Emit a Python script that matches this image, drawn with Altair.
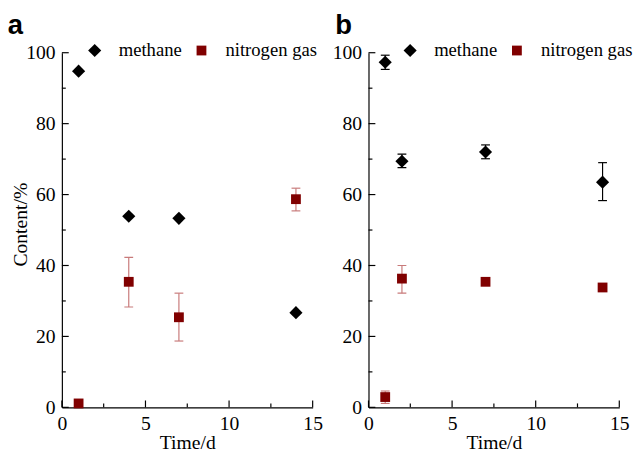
import altair as alt
import pandas as pd

SERIES = ["methane", "nitrogen gas"]

# Panel a
A_T_METHANE = [1, 4, 7, 14]
A_METHANE = [94.8, 53.9, 53.3, 26.7]
A_T_N2 = [1, 4, 7, 14]
A_N2 = [1.1, 35.4, 25.4, 58.7]
A_N2_LO = [None, 28.3, 18.7, 55.4]
A_N2_HI = [None, 42.3, 32.2, 61.8]
A_METHANE_LO = [None, None, None, None]
A_METHANE_HI = [None, None, None, None]

# Panel b
B_T_METHANE = [1, 2, 7, 14]
B_METHANE = [97.3, 69.4, 72.0, 63.5]
B_METHANE_LO = [95.3, 67.6, 70.1, 58.3]
B_METHANE_HI = [99.3, 71.4, 74.0, 69.0]
B_T_N2 = [1, 2, 7, 14]
B_N2 = [2.9, 36.3, 35.4, 33.8]
B_N2_LO = [1.1, 32.2, None, None]
B_N2_HI = [4.6, 40.0, None, None]

X_LABELS = [0, 5, 10, 15]
X_MINOR = [2.5, 7.5, 12.5]
Y_LABELS = [0, 20, 40, 60, 80, 100]
Y_MINOR = [10, 30, 50, 70, 90]

W = 256
H = 362
SERIF = "Liberation Serif"
N2_ERR = "#c87a7a"


def err_df(t, lo, hi):
    rows = [(a, b, c) for a, b, c in zip(t, lo, hi) if b is not None]
    return pd.DataFrame(rows, columns=["t", "lo", "hi"])


def panel(label, t_m, m, m_lo, m_hi, t_n, n, n_lo, n_hi, legend_x, ytitle, title_dx):
    xs = alt.Scale(domain=[0, 15], nice=False, zero=False)
    ys = alt.Scale(domain=[0, 100], nice=False, zero=False)
    x_axis = alt.Axis(values=X_LABELS, ticks=False, grid=False, format="d",
                      labelFont=SERIF, labelFontSize=20, labelColor="black",
                      labelPadding=7, labelFlush=False, labelOverlap=False,
                      domainColor="black", domainWidth=1.2,
                      title="Time/d", titleFont=SERIF, titleFontSize=20,
                      titleFontWeight="normal", titleColor="black",
                      titleBaseline="alphabetic", titleY=42)
    y_kwargs = dict(values=Y_LABELS, ticks=False, grid=False, format="d",
                    labelFont=SERIF, labelFontSize=20, labelColor="black",
                    labelPadding=7, labelFlush=False, labelOverlap=False,
                    domainColor="black", domainWidth=1.2)
    if ytitle:
        y_axis = alt.Axis(title=ytitle, titleFont=SERIF, titleFontSize=20,
                          titleFontWeight="normal", titleColor="black",
                          titleBaseline="alphabetic", titleX=-35.6, titleY=H / 2 - 6,
                          **y_kwargs)
    else:
        y_axis = alt.Axis(title=None, **y_kwargs)

    def X(f):
        return alt.X(f, type="quantitative", scale=xs, axis=x_axis)

    def Y(f):
        return alt.Y(f, type="quantitative", scale=ys, axis=y_axis)

    pts = pd.DataFrame({
        "t": t_m + t_n,
        "v": m + n,
        "series": [SERIES[0]] * len(m) + [SERIES[1]] * len(n),
    })
    leg = alt.Legend(title=None, orient="none", legendX=legend_x, legendY=-12,
                     direction="horizontal", labelFont=SERIF, labelFontSize=19,
                     labelColor="black", labelOffset=15, columnPadding=10,
                     symbolStrokeWidth=0, padding=0, symbolOpacity=1)
    points = alt.Chart(pts).mark_point(filled=True, opacity=1, strokeWidth=0).encode(
        x=X("t"), y=Y("v"),
        color=alt.Color("series:N", scale=alt.Scale(domain=SERIES, range=["#000000", "#800000"]), legend=leg),
        shape=alt.Shape("series:N", scale=alt.Scale(domain=SERIES, range=["diamond", "square"]), legend=leg),
        size=alt.Size("series:N", scale=alt.Scale(domain=SERIES, range=[180, 100]), legend=leg),
    )

    layers = []
    for (tt, lo, hi, col) in [(t_m, m_lo, m_hi, "#000000"), (t_n, n_lo, n_hi, N2_ERR)]:
        df = err_df(tt, lo, hi)
        if len(df) == 0:
            continue
        base = alt.Chart(df)
        layers.append(base.mark_rule(color=col, strokeWidth=1.2).encode(x=X("t"), y=Y("lo"), y2="hi"))
        layers.append(base.mark_tick(color=col, orient="horizontal", size=9, thickness=1.2, opacity=1).encode(x=X("t"), y=Y("lo")))
        layers.append(base.mark_tick(color=col, orient="horizontal", size=9, thickness=1.2, opacity=1).encode(x=X("t"), y=Y("hi")))

    # inward ticks
    ymaj = alt.Chart(pd.DataFrame({"v": Y_LABELS})).mark_rule(color="black", strokeWidth=1.2).encode(
        y=Y("v"), x=alt.value(0), x2=alt.value(7))
    ymin = alt.Chart(pd.DataFrame({"v": Y_MINOR})).mark_rule(color="black", strokeWidth=1.2).encode(
        y=Y("v"), x=alt.value(0), x2=alt.value(4))
    xmaj = alt.Chart(pd.DataFrame({"t": X_LABELS})).mark_rule(color="black", strokeWidth=1.2).encode(
        x=X("t"), y=alt.value(H), y2=alt.value(H - 7))
    xmin = alt.Chart(pd.DataFrame({"t": X_MINOR})).mark_rule(color="black", strokeWidth=1.2).encode(
        x=X("t"), y=alt.value(H), y2=alt.value(H - 4))

    return alt.layer(ymaj, ymin, xmaj, xmin, *layers, points).properties(
        width=W, height=H,
        title=alt.TitleParams(label, anchor="start", frame="bounds", font="Liberation Sans",
                              fontSize=28, fontWeight="bold", color="black", dx=title_dx, offset=1),
    )


pa = panel("a", A_T_METHANE, A_METHANE, A_METHANE_LO, A_METHANE_HI,
           A_T_N2, A_N2, A_N2_LO, A_N2_HI, legend_x=24, ytitle="Content/%", title_dx=-3.7)
pb = panel("b", B_T_METHANE, B_METHANE, B_METHANE_LO, B_METHANE_HI,
           B_T_N2, B_N2, B_N2_LO, B_N2_HI, legend_x=33, ytitle=None, title_dx=3)

chart = alt.hconcat(pa, pb, spacing=57, bounds="flush").resolve_scale(
    color="independent", shape="independent", size="independent"
).properties(padding={"left": -1, "top": 0, "right": 0, "bottom": -2}).configure_view(stroke=None)

chart.save("out.html", embed_options={"renderer": "svg", "actions": False})
